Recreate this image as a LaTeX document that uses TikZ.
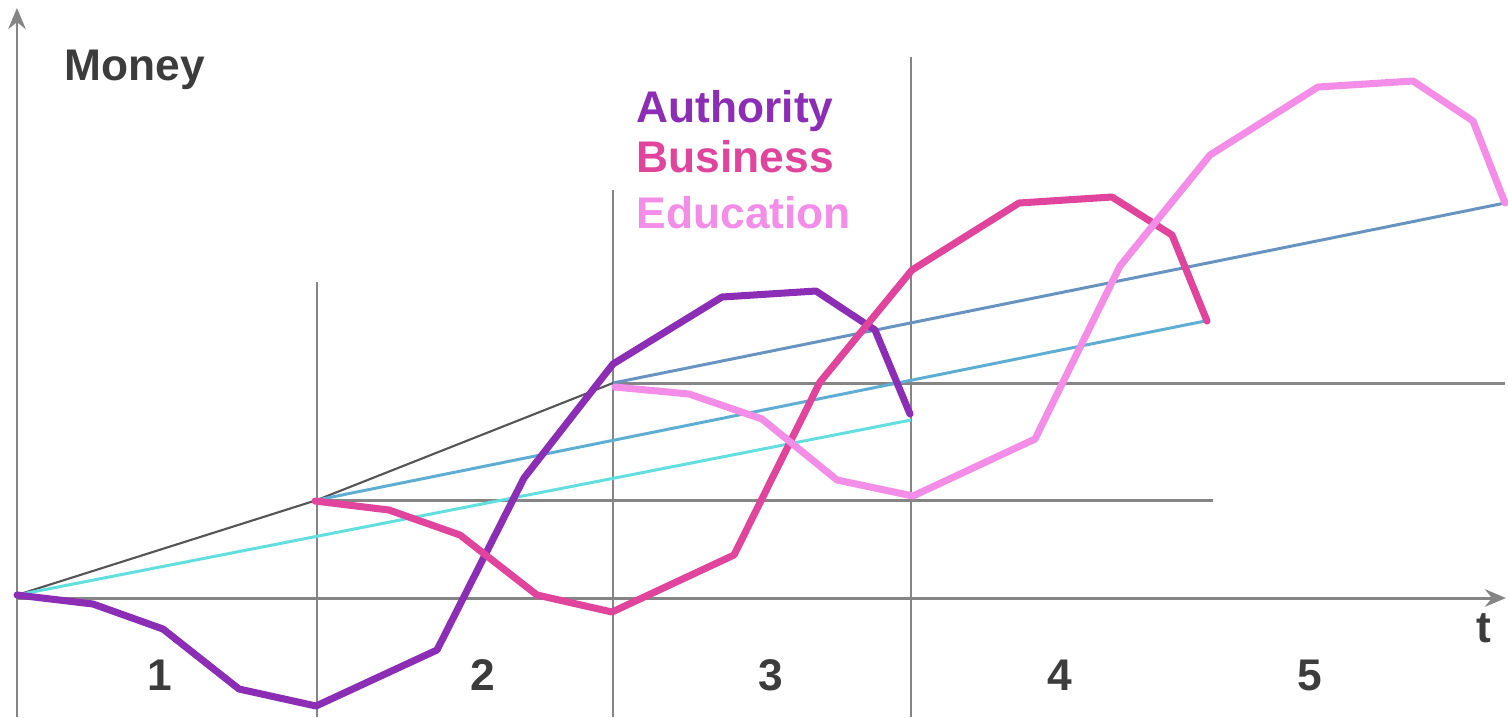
\documentclass[tikz,border=0pt]{standalone}
\usepackage{fontspec}
\setmainfont{Liberation Sans}
\usetikzlibrary{arrows.meta}

\definecolor{axisgray}{HTML}{858585}
\definecolor{trendgray}{HTML}{555555}
\definecolor{labelgray}{HTML}{3C3C3C}
\definecolor{cyanline}{HTML}{62DEDE}
\definecolor{skyline}{HTML}{5EAED3}
\definecolor{steelline}{HTML}{6693BF}
\definecolor{authcol}{HTML}{8C2DB5}
\definecolor{busicol}{HTML}{E0449C}
\definecolor{educol}{HTML}{F48DE8}

\begin{document}
\begin{tikzpicture}[x=0.01cm,y=-0.01cm,
    axis/.style={draw=axisgray,line width=0.85pt},
    trend/.style={line width=0.85pt},
    curve/.style={line width=2pt,line join=round,line cap=round},
    lbl/.style={inner sep=0pt,font=\bfseries\fontsize{12.6}{15}\selectfont}]
  \useasboundingbox (0,0) rectangle (1508,717);

  % Axes
  \draw[axis,-{Stealth[length=6pt,width=5pt,inset=2pt]}] (17,717) -- (17,8);
  \draw[axis,-{Stealth[length=6pt,width=5pt,inset=2pt]}] (17,598) -- (1506,598);

  % Period boundaries and levels
  \draw[axis] (317,282) -- (317,717);
  \draw[axis] (613,190) -- (613,717);
  \draw[axis] (911,57) -- (911,717);
  \draw[axis] (317,500) -- (1213,500);
  \draw[axis] (613,383) -- (1505,383);

  % Trend lines
  \draw[trend,draw=trendgray,line width=0.6pt] (17,595) -- (317,500) -- (613,383);
  \draw[trend,draw=cyanline] (17,595) -- (911,420);
  \draw[trend,draw=skyline] (317,500) -- (1210,320);
  \draw[trend,draw=steelline] (613,383) -- (1505,203);

  % Authority
  \draw[curve,draw=authcol] (17,595) -- (93,604) -- (163,629) -- (239,689)
    -- (316,706) -- (437,650) -- (524,478) -- (613,364) -- (722,297)
    -- (816,291) -- (875,330) -- (910,414);
  % Business
  \draw[curve,draw=busicol] (315,501) -- (389,510) -- (460,535) -- (537,595)
    -- (612,612) -- (734,555) -- (820,382) -- (912,270) -- (1019,203)
    -- (1112,197) -- (1172,235) -- (1207,321);
  % Education
  \draw[curve,draw=educol] (615,387) -- (689,394) -- (762,419) -- (837,480)
    -- (913,496) -- (1035,439) -- (1120,266) -- (1210,155) -- (1318,87)
    -- (1413,81) -- (1473,121) -- (1505,203);

  % Labels
  \node[lbl,text=labelgray,anchor=base west] (money) at (64,80) {Money};
  \node[lbl,text=labelgray,anchor=base] (tlabel) at (1484,642) {t};
  \node[lbl,text=authcol,anchor=base west] (authority) at (636,122) {Authority};
  \node[lbl,text=busicol,anchor=base west] (business) at (636,172) {Business};
  \node[lbl,text=educol,anchor=base west] (education) at (636,228) {Education};

  % Period numbers
  \foreach \n/\px in {1/160,2/483,3/771,4/1060,5/1310}
    \node[lbl,text=labelgray,anchor=base] (period\n) at (\px,690) {\n};

\end{tikzpicture}
\end{document}
